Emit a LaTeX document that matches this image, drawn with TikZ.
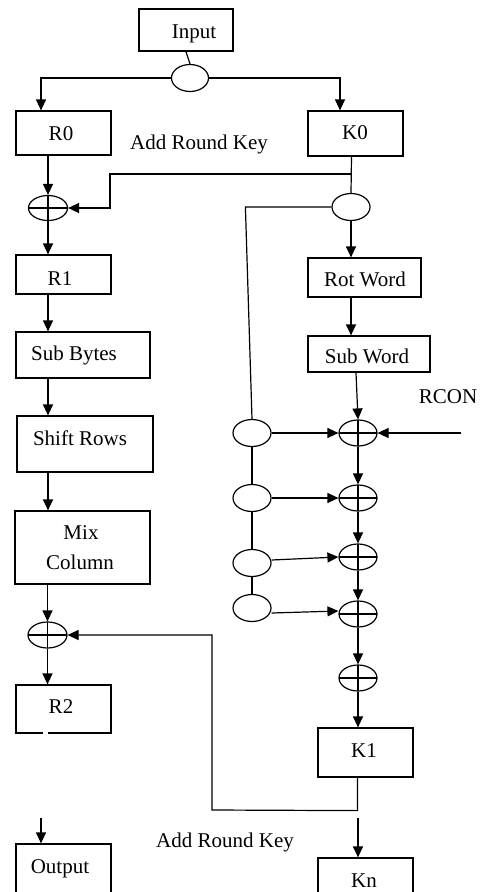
\documentclass[tikz,border=0pt]{standalone}
\usepackage{fontspec}
\setmainfont{Liberation Serif}
\usetikzlibrary{shapes.geometric,arrows.meta}
\begin{document}
\begin{tikzpicture}[x=1pt,y=-1pt,line width=1.2pt,
  box/.style={draw, rectangle, inner sep=0pt},
  lbl/.style={anchor=base, inner sep=0pt, font=\fontsize{21}{25}\selectfont},
  oval/.style={draw, ellipse, minimum width=38pt, minimum height=26pt, inner sep=0pt},
  xor/.style={oval, path picture={\draw[line width=1.2pt] (path picture bounding box.north) -- (path picture bounding box.south) (path picture bounding box.west) -- (path picture bounding box.east);}},
  arr/.style={-{Triangle[length=11pt,width=10pt]}}]
\clip (0,0) rectangle (483,892);
\fill[white] (0,0) rectangle (483,892);
% boxes
\node[box, minimum width=94pt, minimum height=42pt] (input) at (186,30) {};
\node[box, minimum width=95pt, minimum height=44pt] (r0) at (63.5,133) {};
\node[box, minimum width=95pt, minimum height=45pt] (k0) at (355.5,133.5) {};
\node[box, minimum width=95pt, minimum height=39pt] (r1) at (63.5,274.5) {};
\node[box, minimum width=134pt, minimum height=46pt] (subbytes) at (83,355) {};
\node[box, minimum width=136pt, minimum height=56pt] (shiftrows) at (85,444) {};
\node[box, minimum width=135pt, minimum height=73pt] (mixcol) at (82.5,547.5) {};
\node[box, minimum width=95pt, minimum height=48pt] (r2) at (63.5,709) {};
\node[box, minimum width=95pt, minimum height=66pt] (output) at (63.5,877) {};
\node[box, minimum width=113pt, minimum height=39pt] (rotword) at (364.5,277.5) {};
\node[box, minimum width=122pt, minimum height=36pt] (subword) at (369,354) {};
\node[box, minimum width=95pt, minimum height=49pt] (k1) at (365.5,752.5) {};
\node[box, minimum width=95pt, minimum height=62pt] (kn) at (365.5,889) {};
\fill[white] (42.5,731) rectangle (47.5,735);
% texts
\node[lbl] (tinput) at (194,38) {Input};
\node[lbl] (tr0) at (61,140) {R0};
\node[lbl] (tk0) at (355,139) {K0};
\node[lbl] (tark1) at (199,149) {Add Round Key};
\node[lbl] (tr1) at (60,285) {R1};
\node[lbl] (tsb) at (74,360) {Sub Bytes};
\node[lbl] (tsr) at (80,445) {Shift Rows};
\node[lbl] (tmix) at (81,539) {Mix};
\node[lbl] (tcol) at (80,569) {Column};
\node[lbl] (tr2) at (61,713) {R2};
\node[lbl] (tout) at (60,873) {Output};
\node[lbl] (trw) at (365,286) {Rot Word};
\node[lbl] (tsw) at (367,363) {Sub Word};
\node[lbl] (tk1) at (364,757) {K1};
\node[lbl] (tkn) at (364,887) {Kn};
\node[lbl] (tark2) at (225,847) {Add Round Key};
\node[lbl] (trcon) at (448,403) {RCON};
% ellipses
\node[oval, minimum width=37pt, minimum height=27pt] (split) at (190,78) {};
\node[xor, minimum width=39pt, minimum height=25pt] (xr1) at (48,208) {};
\node[oval, minimum height=27pt] (kspl) at (351,207) {};
\node[oval, minimum height=27pt] (l1) at (252,433) {};
\node[oval, minimum height=27pt] (l2) at (252,498) {};
\node[oval, minimum height=27pt] (l3) at (252,563) {};
\node[oval, minimum height=27pt] (l4) at (252,608) {};
\node[xor] (x1) at (358,433) {};
\node[xor] (x2) at (358,498) {};
\node[xor] (x3) at (358,557) {};
\node[xor] (x4) at (358,614) {};
\node[xor] (x5) at (358,678) {};
\node[xor, minimum width=39pt] (xr2) at (47.5,635) {};
% coordinates
\coordinate (fb) at (351.5,174);
\coordinate (rc) at (461,433);
\coordinate (kt) at (358,818);
\coordinate (ot) at (41,818);
% connectors
\draw (input.south) -- (split.north);
\draw[arr] (split.west) -| ([xshift=-22.5pt]r0.north);
\draw[arr] (split.east) -| ([xshift=-15.5pt]k0.north);
\draw[arr] ([xshift=-15.5pt]r0.south) -- (xr1.north);
\draw[arr] (xr1.south) -- (xr1.south |- r1.north);
\draw[arr] (xr1.south |- r1.south) -- (xr1.south |- subbytes.north);
\draw[arr] (xr1.south |- subbytes.south) -- (xr1.south |- shiftrows.north);
\draw[arr] (xr1.south |- shiftrows.south) -- (xr1.south |- mixcol.north);
\draw[arr] (mixcol.south -| xr2.north) -- (xr2.north);
\draw[arr] (xr2.south) -- (xr2.south |- r2.north);
\draw ([xshift=-4pt]k0.south) -- (kspl.north);
\draw[arr] (fb) -- (110,174) |- (xr1.east);
\draw (kspl.west) -- ++(-86,0) -- (l1.north);
\draw[arr] (kspl.south) -- (kspl.south |- rotword.north);
\draw[arr] (kspl.south |- rotword.south) -- (kspl.south |- subword.north);
\draw[arr] ([xshift=-13pt]subword.south) -- (x1.north);
\draw[arr] (rc) -- (x1.east);
\draw[arr] (l1.east) -- (x1.west);
\draw[arr] (l2.east) -- (x2.west);
\draw[arr] ([yshift=3pt]l3.east) -- (x3.west);
\draw[arr] ([yshift=-5pt]l4.east) -- ([yshift=3pt]x4.west);
\draw (l1.south) -- (l2.north);
\draw (l2.south) -- (l3.north);
\draw (l3.south) -- (l4.north);
\draw[arr] (x1.south) -- (x2.north);
\draw[arr] (x2.south) -- (x3.north);
\draw[arr] (x3.south) -- (x4.north);
\draw[arr] (x4.south) -- (x5.north);
\draw[arr] (x5.south) -- (x5.south |- k1.north);
\draw[arr] ([xshift=-8pt]k1.south) -- ++(0,33) -- (212,810) |- (xr2.east);
\draw[arr] (kt) -- (kt |- kn.north);
\draw[arr] (ot) -- (ot |- output.north);
\end{tikzpicture}
\end{document}
